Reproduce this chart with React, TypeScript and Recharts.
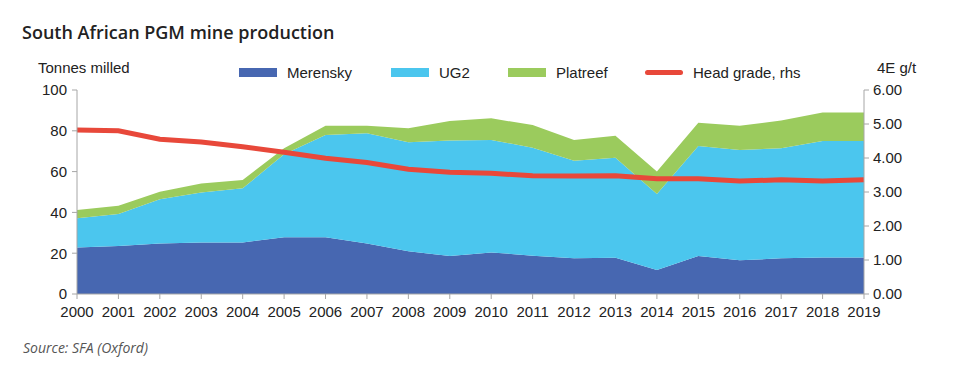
// South African PGM mine production — stacked areas + head grade line (Recharts ComposedChart)
import React from "react";
import {
  ComposedChart,
  Area,
  Line,
  XAxis,
  YAxis,
} from "recharts";

const years = [
  "2000", "2001", "2002", "2003", "2004", "2005", "2006", "2007", "2008", "2009",
  "2010", "2011", "2012", "2013", "2014", "2015", "2016", "2017", "2018", "2019",
];
const merensky = [22.8, 23.5, 24.8, 25.3, 25.3, 27.8, 27.8, 24.8, 21, 18.6, 20.4, 18.8, 17.5, 17.8, 11.8, 18.6, 16.5, 17.5, 17.9, 17.9];
const ug2 = [14.3, 15.7, 21.6, 24.5, 26.5, 40.7, 50.1, 54, 53.4, 56.6, 55.1, 52.9, 47.8, 49, 37.2, 53.9, 54.1, 53.9, 57.1, 57.1];
const platreef = [4.1, 4.1, 3.7, 4.4, 4.1, 2.9, 4.6, 3.7, 6.8, 9.6, 10.6, 11.1, 10.2, 10.8, 11, 11.5, 11.9, 13.6, 14, 14];
const headGrade = [4.82, 4.8, 4.55, 4.47, 4.33, 4.17, 3.99, 3.87, 3.67, 3.58, 3.55, 3.48, 3.47, 3.48, 3.39, 3.39, 3.32, 3.36, 3.32, 3.36];

const leftTicks = [0, 20, 40, 60, 80, 100];
const rightTicks = [0, 1, 2, 3, 4, 5, 6];

const data = years.map((y, i) => ({
  year: y,
  merensky: merensky[i],
  ug2: ug2[i],
  platreef: platreef[i],
  grade: headGrade[i],
}));

const FONT = '"Liberation Sans", Arial, sans-serif';
const AXIS = "#a6a6a6";

// legend entries, positioned by hand to sit like the original
const legendItems = [
  { label: "Merensky", color: "#4767b1", line: false, left: 239 },
  { label: "UG2", color: "#4bc6ee", line: false, left: 391 },
  { label: "Platreef", color: "#9bcb5d", line: false, left: 508 },
  { label: "Head grade, rhs", color: "#e8483a", line: true, left: 645 },
];

export default function App() {
  return (
    <div style={{ position: "absolute", left: 0, top: 0, width: 957, height: 367, background: "#fff" }}>
      <div style={{ position: "absolute", left: 22, top: 20, fontFamily: '"Open Sans", sans-serif', fontWeight: 600, fontSize: 18, color: "#222" }}>
        South African PGM mine production
      </div>
      <div style={{ position: "absolute", left: 38, top: 59, fontFamily: FONT, fontSize: 15, color: "#222" }}>
        Tonnes milled
      </div>
      <div style={{ position: "absolute", left: 877, top: 59, fontFamily: FONT, fontSize: 15, color: "#222" }}>
        4E g/t
      </div>
      {legendItems.map((it) => (
        <div
          key={it.label}
          style={{ position: "absolute", left: it.left, top: 64, display: "flex", alignItems: "center", fontFamily: FONT, fontSize: 15, color: "#222", whiteSpace: "nowrap" }}
        >
          <span
            style={{
              display: "inline-block",
              width: 38,
              height: it.line ? 5 : 9,
              borderRadius: it.line ? 3 : 0,
              background: it.color,
              marginRight: 10,
            }}
          />
          <span>{it.label}</span>
        </div>
      ))}
      <div style={{ position: "absolute", left: 23, top: 338, fontFamily: '"Open Sans", sans-serif', fontStyle: "italic", fontSize: 14, color: "#555" }}>
        Source: SFA (Oxford)
      </div>
      <div style={{ position: "absolute", left: 0, top: 0 }}>
        <ComposedChart
          width={957}
          height={367}
          data={data}
          margin={{ top: 90, right: 33, bottom: 43, left: 27 }}
        >
          <XAxis
            dataKey="year"
            scale="point"
            padding={{ left: 0, right: 0 }}
            interval={0}
            height={30}
            stroke={AXIS}
            tickLine={{ stroke: AXIS }}
            tickSize={5}
            tick={{ fill: "#222", fontSize: 15, fontFamily: FONT, dy: 5 }}
          />
          <YAxis
            yAxisId="left"
            domain={[0, 100]}
            ticks={leftTicks}
            width={50}
            stroke={AXIS}
            tickSize={5}
            tick={{ fill: "#222", fontSize: 15, fontFamily: FONT, dx: -3 }}
          />
          <YAxis
            yAxisId="right"
            orientation="right"
            domain={[0, 6]}
            ticks={rightTicks}
            width={60}
            stroke={AXIS}
            tickSize={5}
            tickFormatter={(v: number) => v.toFixed(2)}
            tick={{ fill: "#222", fontSize: 15, fontFamily: FONT, dx: 2 }}
          />
          <Area yAxisId="left" type="linear" dataKey="merensky" name="Merensky" stackId="a" stroke="none" fill="#4767b1" fillOpacity={1} isAnimationActive={false} />
          <Area yAxisId="left" type="linear" dataKey="ug2" name="UG2" stackId="a" stroke="none" fill="#4bc6ee" fillOpacity={1} isAnimationActive={false} />
          <Area yAxisId="left" type="linear" dataKey="platreef" name="Platreef" stackId="a" stroke="none" fill="#9bcb5d" fillOpacity={1} isAnimationActive={false} />
          <Line yAxisId="right" type="linear" dataKey="grade" name="Head grade, rhs" stroke="#e8483a" strokeWidth={5} dot={false} isAnimationActive={false} />
        </ComposedChart>
      </div>
    </div>
  );
}
